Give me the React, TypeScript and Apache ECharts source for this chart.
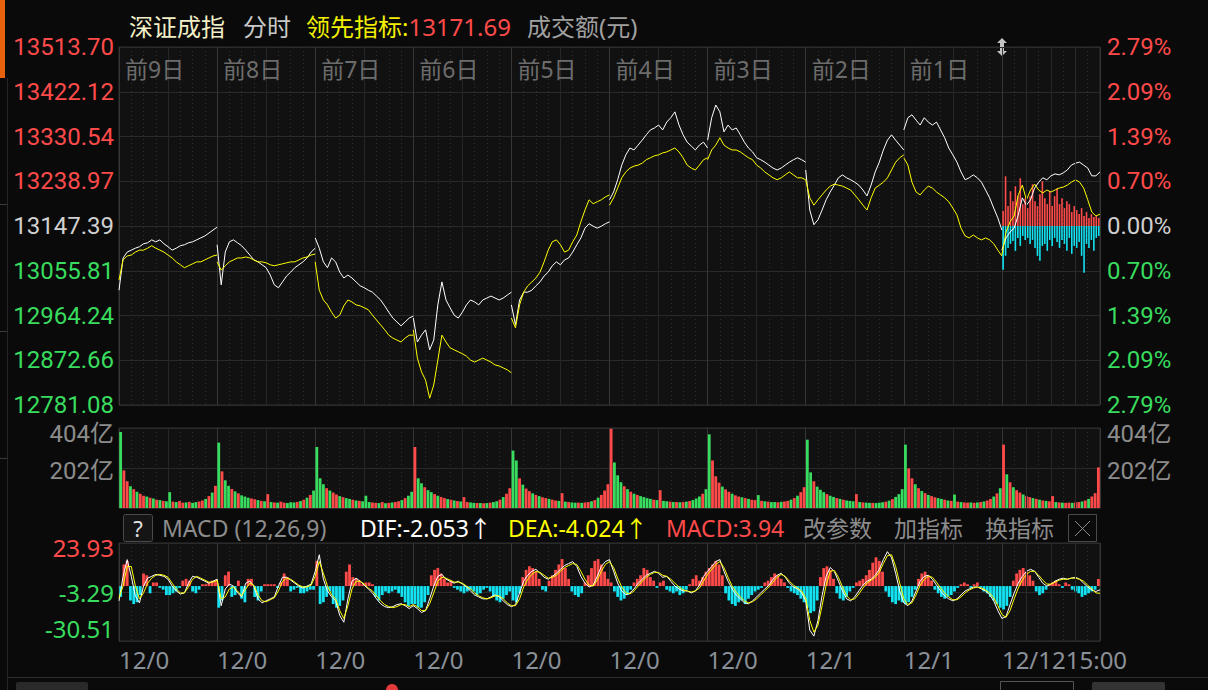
import React, { useEffect, useRef } from 'react';
import * as echarts from 'echarts';

const FONT = '"Noto Sans", "Noto Sans CJK SC", sans-serif';
const AXIS_FONT = 'Roboto, "Noto Sans CJK SC", sans-serif';
const RED = '#ff4a4a';
const GREEN = '#38dc5e';
const CYAN = '#12e2f2';
const YELLOW = '#ffff00';
const GREY = '#8c8c8c';

const PRICE_MIN = 12781.08;
const PRICE_MAX = 13513.70;
const PRICE_TICKS = ['12781.08', '12872.66', '12964.24', '13055.81', '13147.39', '13238.97', '13330.54', '13422.12', '13513.70'];
const PCT_TICKS = ['2.79%', '2.09%', '1.39%', '0.70%', '0.00%', '0.70%', '1.39%', '2.09%', '2.79%'];
const VOL_TICKS = ['', '202亿', '404亿'];
const MACD_MIN = -30.51;
const MACD_MAX = 23.93;
const MACD_TICKS = ['-30.51', '-3.29', '23.93'];
const TOP_DAY_LABELS = ['前9日', '前8日', '前7日', '前6日', '前5日', '前4日', '前3日', '前2日', '前1日'];
const DATE_LABELS = ['12/0', '12/0', '12/0', '12/0', '12/0', '12/0', '12/0', '12/1', '12/1', '12/1215:00'];

// index (white) – one value every 10 minutes, 25 per day
const INDEX_DAYS: number[][] = [
  [13016, 13082, 13094, 13098, 13102, 13105, 13111, 13113, 13119, 13115, 13119, 13111, 13105, 13098, 13102, 13107, 13109, 13113, 13115, 13119, 13123, 13127, 13133, 13139, 13145],
  [13109, 13027, 13094, 13115, 13119, 13113, 13107, 13098, 13088, 13078, 13074, 13068, 13062, 13047, 13027, 13021, 13033, 13045, 13053, 13062, 13068, 13074, 13082, 13094, 13102],
  [13123, 13102, 13074, 13062, 13082, 13074, 13053, 13041, 13047, 13041, 13033, 13025, 13021, 13016, 13012, 13004, 12996, 12984, 12971, 12959, 12951, 12943, 12951, 12959, 12963],
  [12959, 12910, 12924, 12935, 12894, 12914, 12986, 13033, 12996, 12980, 12965, 12959, 12971, 12986, 12996, 12992, 12986, 12996, 13000, 13004, 13000, 12996, 13000, 13006, 13012],
  [12986, 12945, 12996, 13012, 13012, 13016, 13025, 13033, 13045, 13053, 13066, 13074, 13068, 13078, 13082, 13094, 13109, 13123, 13143, 13152, 13147, 13143, 13147, 13152, 13156],
  [13201, 13217, 13242, 13272, 13293, 13307, 13303, 13313, 13323, 13334, 13344, 13348, 13354, 13344, 13360, 13369, 13381, 13354, 13334, 13319, 13311, 13303, 13313, 13319, 13307],
  [13323, 13369, 13395, 13381, 13340, 13354, 13344, 13348, 13334, 13319, 13307, 13299, 13287, 13283, 13278, 13272, 13266, 13262, 13266, 13272, 13278, 13283, 13287, 13283, 13278],
  [13262, 13180, 13150, 13160, 13180, 13201, 13217, 13231, 13246, 13252, 13246, 13242, 13237, 13231, 13221, 13209, 13231, 13258, 13278, 13303, 13323, 13334, 13323, 13313, 13303],
  [13344, 13369, 13375, 13364, 13354, 13369, 13360, 13354, 13360, 13344, 13328, 13307, 13293, 13278, 13258, 13242, 13246, 13252, 13246, 13237, 13221, 13205, 13184, 13164, 13139],
  [13098, 13123, 13135, 13143, 13170, 13205, 13190, 13201, 13225, 13237, 13246, 13242, 13250, 13254, 13252, 13256, 13262, 13272, 13276, 13278, 13272, 13266, 13250, 13250, 13258],
];

// leading indicator (yellow) – one value every 10 minutes, 25 per day
const LEAD_DAYS: number[][] = [
  [13037, 13078, 13086, 13088, 13094, 13098, 13098, 13102, 13107, 13102, 13098, 13094, 13088, 13082, 13074, 13068, 13062, 13066, 13070, 13074, 13074, 13078, 13082, 13086, 13088],
  [13074, 13057, 13066, 13074, 13078, 13082, 13082, 13084, 13082, 13078, 13074, 13074, 13072, 13068, 13066, 13068, 13070, 13072, 13074, 13074, 13078, 13082, 13084, 13088, 13090],
  [13074, 13016, 12996, 12986, 12971, 12959, 12965, 12984, 12996, 12992, 12986, 12984, 12980, 12976, 12965, 12955, 12945, 12935, 12924, 12918, 12914, 12910, 12918, 12924, 12924],
  [12935, 12877, 12849, 12832, 12795, 12822, 12873, 12924, 12910, 12898, 12894, 12890, 12886, 12881, 12873, 12869, 12873, 12877, 12873, 12869, 12863, 12861, 12857, 12853, 12847],
  [12959, 12939, 12986, 13012, 13025, 13033, 13041, 13053, 13074, 13098, 13115, 13119, 13109, 13094, 13098, 13115, 13129, 13156, 13180, 13201, 13193, 13197, 13201, 13207, 13211],
  [13190, 13205, 13225, 13246, 13258, 13266, 13270, 13272, 13276, 13283, 13287, 13291, 13293, 13297, 13299, 13303, 13307, 13299, 13287, 13272, 13266, 13262, 13272, 13283, 13287],
  [13283, 13303, 13313, 13328, 13313, 13307, 13303, 13303, 13299, 13293, 13287, 13283, 13272, 13266, 13258, 13252, 13246, 13242, 13246, 13252, 13258, 13252, 13246, 13246, 13242],
  [13242, 13205, 13190, 13201, 13211, 13221, 13229, 13233, 13231, 13229, 13225, 13221, 13211, 13201, 13190, 13180, 13205, 13225, 13231, 13237, 13246, 13262, 13278, 13287, 13293],
  [13287, 13272, 13237, 13217, 13211, 13221, 13229, 13225, 13217, 13211, 13205, 13197, 13184, 13170, 13143, 13127, 13123, 13129, 13123, 13119, 13123, 13119, 13111, 13098, 13086],
  [13088, 13135, 13156, 13168, 13211, 13231, 13201, 13221, 13233, 13221, 13215, 13221, 13217, 13221, 13225, 13227, 13231, 13237, 13242, 13237, 13225, 13201, 13176, 13168, 13171.69],
];

// last-day buy / sell strength bars, one every 6 minutes
const BUY_STRENGTH = [15, 50, 20, 35, 25, 40, 30, 48, 22, 28, 18, 30, 42, 25, 20, 32, 45, 28, 22, 35, 20, 30, 38, 22, 28, 18, 25, 22, 14, 20, 16, 12, 18, 10, 14, 8, 12, 9, 10, 8];
const SELL_STRENGTH = [44, 30, 22, 18, 15, 25, 12, 20, 10, 14, 12, 18, 14, 22, 30, 35, 20, 18, 25, 14, 20, 12, 16, 22, 14, 18, 25, 12, 28, 20, 22, 16, 30, 47, 18, 22, 14, 25, 12, 10];

// turnover (亿) – one bar every 8 minutes, 30 per day
const VOLUME_DAYS: number[][] = [
  [384, 190, 135, 110, 95, 82, 72, 62, 58, 52, 48, 42, 40, 36, 34, 80, 32, 30, 35, 27, 28, 31, 26, 30, 33, 38, 46, 60, 78, 112],
  [330, 185, 140, 112, 96, 84, 74, 64, 58, 52, 48, 44, 40, 36, 34, 70, 30, 28, 27, 32, 27, 25, 29, 28, 31, 35, 42, 52, 66, 88],
  [308, 150, 120, 100, 88, 78, 68, 60, 55, 50, 46, 42, 38, 36, 34, 62, 30, 28, 26, 25, 30, 24, 26, 28, 30, 34, 40, 50, 62, 82],
  [308, 150, 125, 105, 90, 80, 70, 62, 56, 50, 45, 42, 38, 35, 33, 55, 30, 28, 26, 25, 25, 24, 25, 27, 30, 34, 42, 55, 72, 100],
  [290, 240, 150, 118, 98, 85, 74, 66, 60, 54, 50, 46, 42, 38, 36, 75, 32, 30, 28, 27, 27, 26, 28, 30, 34, 40, 52, 66, 88, 120],
  [400, 230, 165, 130, 110, 95, 82, 72, 66, 60, 55, 50, 46, 42, 40, 90, 36, 34, 32, 30, 30, 29, 30, 32, 35, 40, 48, 58, 72, 95],
  [372, 240, 160, 128, 108, 94, 82, 72, 64, 58, 54, 50, 46, 42, 40, 65, 36, 34, 32, 30, 30, 29, 31, 33, 36, 42, 50, 62, 80, 105],
  [345, 180, 135, 108, 92, 80, 70, 62, 56, 50, 46, 42, 38, 36, 34, 70, 30, 28, 27, 26, 26, 25, 27, 29, 32, 37, 45, 56, 70, 95],
  [320, 200, 150, 120, 100, 86, 75, 66, 60, 54, 50, 46, 42, 38, 36, 68, 32, 30, 28, 27, 28, 26, 28, 30, 33, 38, 46, 58, 74, 100],
  [320, 170, 130, 105, 90, 78, 68, 60, 55, 50, 46, 42, 38, 36, 34, 60, 30, 28, 27, 26, 27, 26, 28, 30, 33, 38, 46, 58, 75, 205],
];
const VOLUME_UPDOWN: string[] = [
  'grrgrgrrgr' + 'grgrggrgrr' + 'grggrrgrgr',
  'grggrgrggg' + 'rrgrgrgrgr' + 'rgggrgrgrg',
  'gggrgrrgrg' + 'grgrgggrrg' + 'rgrgrrgrgg',
  'rggrggrgrr' + 'grgrgrrggr' + 'grgrggrgrr',
  'ggrgrrgrgr' + 'rgrrgrgrgg' + 'rgrrgrgrrr',
  'rgggrgrgrg' + 'gggrgrggrg' + 'rgrgrgggrg',
  'grrrgrrgrr' + 'grgrrgrgrg' + 'grgrrgrgrr',
  'ggrgggrggr' + 'grgggrgrgg' + 'rgggrgrggg',
  'grrgrgrgrr' + 'ggrgrgrgrr' + 'grgrgrrgrg',
  'rgrgrrgrrg' + 'rgrgrrgrgr' + 'rgrrgrgrrr',
];

// MACD histogram – one bar every 8 minutes, 30 per day
const MACD_HIST_DAYS: number[][] = [
  [-6, 12, 14, -8, -10, -9, -5, 7, 6, -4, 2, 2, -1, -2, -5, -5, -4, -3, -1, 3, 4, 3, -3, -4, -2, 1, 1, 2, 3, 3],
  [-12, -8, 6, 8, -6, -5, 3, -7, -9, 4, 4, -6, -8, -3, 1, 1, 1, 1, -1, 2, 7, 5, -3, -2, -1, -4, -4, -3, -2, -2],
  [14, -10, -9, -6, -3, -10, -12, -11, -8, 8, 12, 5, 4, 3, 1, 2, 2, 1, -6, -8, -5, -3, -4, -3, -2, -4, -6, -9, -11, -10],
  [-10, -12, -12, -9, -5, 6, 9, 10, 7, 4, 2, 3, -1, -2, -3, -4, -3, -2, -3, -5, -4, -2, -1, -3, -6, -8, -9, -7, -5, -3],
  [-8, -9, -4, 5, 9, 11, 10, 8, 4, -2, -3, 3, 6, 9, 12, 15, 10, 4, -3, -5, -6, -4, 2, 6, 10, 14, 15, 12, 8, 4],
  [2, -3, -6, -8, -7, -5, -2, 2, 4, 6, 10, 9, 5, 3, -1, 2, 3, -2, -3, -4, -3, -5, -4, -2, 1, 4, 6, 3, 5, 8],
  [10, 12, 14, 12, 6, -4, -8, -10, -11, -9, -8, -10, -7, -5, -3, -2, -1, 2, 3, 5, 7, 6, 4, 2, -1, -3, -4, -5, -7, -9],
  [-12, -15, -14, -8, 5, 10, 11, 9, 4, -4, -7, -8, -6, -3, -1, 2, 3, 4, 6, 9, 13, 16, 14, 8, -3, -6, -9, -10, -8, -9],
  [-10, -9, -6, -2, 4, 7, 8, 6, 3, -2, -4, -6, -7, -6, -5, -3, -1, 1, 2, 1, -1, 1, 2, -1, -3, -4, -6, -8, -10, -12],
  [-13, -11, -6, 3, 7, 9, 10, 8, 6, 3, -3, -5, -4, -2, 1, 2, 3, 1, -1, 2, 1, -2, -3, -4, -6, -5, -4, -3, -2, 3.94],
];

// DIF / DEA – one value every 10 minutes (24 per day, 25 on the last day)
const DIF_DAYS: number[][] = [
  [-8.2, 5.4, 14.7, 5.4, -5.4, -9.3, 0, 4.4, 5.4, 6.5, 6.0, 5.4, 3.8, 0, -2.7, -4.4, -3.8, 1.6, 5.4, 4.9, 3.8, 2.7, 1.6, 2.7],
  [3.8, -10.9, -1.6, 1.1, 0, -3.8, -6.0, 1.6, 2.7, 0, -7.1, -9.3, -8.2, -7.1, -6.0, 0, 4.9, 4.9, 3.3, 1.6, 0, -1.1, 0, 1.1],
  [8.2, 17.4, 3.8, -2.7, -6.0, -8.2, -16.3, -20.1, -7.1, 2.7, 4.4, 2.7, 0.5, -1.6, -3.8, -7.1, -9.8, -11.4, -12.0, -11.4, -10.3, -9.8, -10.9, -12.5],
  [-10.9, -12.5, -14.7, -13.6, -7.1, 0, 5.4, 6.5, 3.8, 2.7, 1.6, 2.7, 1.1, -0.5, -2.7, -4.9, -6.0, -7.1, -7.1, -6.0, -4.9, -6.0, -8.2, -10.3],
  [-11.4, -10.3, -3.8, 2.7, 6.0, 8.2, 9.3, 7.1, 4.9, 3.8, 5.4, 7.1, 9.3, 11.4, 12.5, 13.6, 10.9, 5.4, 1.6, -0.5, 0.5, 5.4, 10.9, 13.6],
  [14.7, 8.2, 1.6, -2.7, -4.9, -3.8, -1.6, 1.6, 3.8, 6.0, 7.1, 8.2, 7.1, 4.9, 5.4, 2.7, 0, -1.6, -2.7, -2.7, -3.8, -2.7, 0.5, 5.4],
  [8.2, 10.9, 13.6, 14.7, 8.2, 2.7, -1.6, -4.9, -7.1, -9.3, -9.8, -8.2, -6.0, -3.8, -1.6, 0.5, 3.8, 6.0, 7.1, 4.9, 1.6, -0.5, -1.6, -3.8],
  [-8.2, -24.5, -27.8, -19.1, -5.4, 5.4, 10.3, 8.2, 2.7, -2.7, -7.1, -8.2, -6.0, -2.7, 0.5, 2.7, 3.8, 6.0, 9.3, 14.7, 19.1, 15.8, 7.1, -2.7],
  [-9.3, -10.9, -8.2, -2.7, 2.7, 5.4, 6.0, 3.8, 0.5, -2.7, -5.4, -7.1, -8.2, -7.1, -4.9, -2.7, -1.6, -0.5, -0.5, -1.6, -2.7, -4.9, -8.2, -13.6],
  [-18.0, -16.9, -10.3, -3.8, 1.6, 5.4, 8.2, 9.3, 8.2, 4.9, 1.6, 0, 1.1, 2.7, 3.8, 4.4, 3.8, 4.4, 4.9, 3.8, 1.6, -0.5, -2.2, -3.0, -2.053],
];
const DEA_DAYS: number[][] = [
  [-6.5, 0, 10.9, 10.9, 0, -7.1, -3.8, 1.6, 4.4, 6.0, 6.5, 6.0, 4.9, 1.6, -1.6, -3.8, -3.8, -0.5, 3.8, 5.4, 4.4, 3.3, 2.2, 2.2],
  [3.3, -7.1, -6.0, -1.6, -0.5, -2.7, -5.4, -1.6, 1.6, 0.5, -4.9, -8.2, -8.7, -7.6, -6.5, -2.7, 2.7, 4.4, 3.8, 2.2, 0.5, -0.5, -0.5, 0.5],
  [5.4, 13.6, 7.1, 0, -4.9, -7.1, -13.6, -18.0, -10.9, -1.6, 2.7, 2.7, 1.1, -1.1, -2.7, -5.4, -8.2, -10.3, -11.4, -12.0, -11.4, -10.3, -10.3, -11.4],
  [-10.3, -11.4, -13.6, -13.6, -9.8, -3.8, 2.7, 4.9, 4.4, 3.3, 2.2, 2.2, 1.6, 0, -1.6, -3.8, -5.4, -6.5, -7.1, -6.5, -5.4, -5.4, -7.1, -9.3],
  [-10.9, -10.9, -7.1, -0.5, 3.8, 6.5, 8.2, 7.6, 6.0, 4.4, 4.9, 6.0, 8.2, 10.3, 11.4, 12.5, 12.0, 8.2, 3.8, 0.5, 0, 3.3, 8.2, 12.0],
  [13.6, 10.3, 4.4, -0.5, -3.8, -4.4, -2.7, 0, 2.7, 4.9, 6.5, 7.6, 7.6, 6.0, 5.4, 3.8, 1.6, -0.5, -2.2, -2.7, -3.3, -2.7, -1.1, 2.7],
  [6.5, 9.3, 12.0, 13.6, 10.3, 4.9, 0, -3.3, -6.0, -8.2, -9.3, -8.7, -7.1, -4.9, -2.7, -0.5, 2.2, 4.9, 6.5, 5.4, 2.7, 0.5, -1.1, -2.7],
  [-6.5, -19.1, -25.6, -21.8, -10.9, 0.5, 8.2, 8.7, 4.9, -0.5, -5.4, -7.6, -7.1, -4.4, -1.1, 1.6, 3.3, 4.9, 7.6, 12.5, 16.9, 17.4, 10.9, 1.6],
  [-7.1, -10.3, -9.3, -4.9, 0.5, 3.8, 5.4, 4.9, 2.2, -1.1, -3.8, -6.0, -7.6, -7.6, -6.0, -3.8, -2.2, -1.1, -0.5, -1.1, -2.2, -3.8, -6.5, -10.9],
  [-15.8, -17.4, -13.6, -7.1, -1.1, 3.3, 6.5, 8.2, 8.2, 6.0, 3.3, 1.1, 1.1, 2.2, 3.3, 3.8, 3.8, 4.4, 4.4, 3.8, 2.7, 0.5, -1.6, -3.8, -4.024],
];

const DAY = 240;

function xAxisPair(gridIndex: number, labelTop: boolean, labelBottom: boolean) {
  const base = {
    gridIndex,
    type: 'value',
    min: 0,
    max: DAY * 10,
    axisLine: { show: false },
    axisTick: { show: false },
  };
  return [
    {
      ...base,
      position: labelBottom ? 'bottom' : 'top',
      interval: 120,
      splitLine: { show: true, lineStyle: { color: '#262626', width: 1 } },
      minorTick: { show: false, splitNumber: 4 },
      minorSplitLine: { show: true, lineStyle: { color: '#2e2e2e', width: 1, type: [1, 3] } },
      axisLabel: { show: false },
    },
    {
      ...base,
      position: labelBottom ? 'top' : 'bottom',
      interval: DAY,
      splitLine: { show: true, lineStyle: { color: '#363636', width: 1 } },
      axisLabel: labelTop
        ? {
            show: true,
            inside: true,
            margin: 10,
            align: 'left',
            verticalAlign: 'top',
            padding: [0, 0, 0, 6],
            color: '#6c6c6c',
            fontSize: 23,
            fontFamily: FONT,
            showMaxLabel: false,
            formatter: (v: number) => {
              const i = Math.round(v / DAY);
              return i < TOP_DAY_LABELS.length ? TOP_DAY_LABELS[i] : '';
            },
          }
        : { show: false },
    },
  ];
}

function buildOption() {
  const series: any[] = [];
  const hourLines = {
    silent: true,
    symbol: ['none', 'none'],
    label: { show: false },
    lineStyle: { color: '#2a2a2a', type: 'solid', width: 1 },
    data: [{ xAxis: DAY * 9 + 60 }, { xAxis: DAY * 9 + 180 }],
  };

  // last-day strength bars
  series.push({
    type: 'bar', xAxisIndex: 0, yAxisIndex: 3, barWidth: 1.6, barGap: '-100%', z: 1,
    itemStyle: { color: RED },
    data: BUY_STRENGTH.map((v, i) => [DAY * 9 + i * 6 + 3, v]),
    markLine: hourLines,
  });
  series.push({
    type: 'bar', xAxisIndex: 0, yAxisIndex: 3, barWidth: 1.6, barGap: '-100%', z: 1,
    itemStyle: { color: CYAN },
    data: SELL_STRENGTH.map((v, i) => [DAY * 9 + i * 6 + 3, -v]),
  });

  for (let d = 0; d < 10; d++) {
    series.push({
      type: 'line', xAxisIndex: 0, yAxisIndex: 2, symbol: 'none', z: 3,
      lineStyle: { color: '#ffffff', width: 1 },
      data: INDEX_DAYS[d].map((p, i) => [d * DAY + i * 10, p]),
    });
    series.push({
      type: 'line', xAxisIndex: 0, yAxisIndex: 2, symbol: 'none', z: 4,
      lineStyle: { color: YELLOW, width: 1 },
      data: LEAD_DAYS[d].map((p, i) => [d * DAY + i * 10, p]),
    });
  }

  // volume
  const volData: any[] = [];
  VOLUME_DAYS.forEach((day, d) =>
    day.forEach((v, i) =>
      volData.push({
        value: [d * DAY + i * 8 + 4, v],
        itemStyle: { color: VOLUME_UPDOWN[d][i] === 'r' ? RED : GREEN },
      })
    )
  );
  series.push({
    type: 'bar', xAxisIndex: 2, yAxisIndex: 4, barWidth: 2.8, data: volData, markLine: hourLines,
  });

  // MACD
  const histData: any[] = [];
  MACD_HIST_DAYS.forEach((day, d) =>
    day.forEach((v, i) =>
      histData.push({ value: [d * DAY + i * 8 + 4, v], itemStyle: { color: v >= 0 ? RED : CYAN } })
    )
  );
  series.push({
    type: 'bar', xAxisIndex: 5, yAxisIndex: 7, barWidth: 2.8, data: histData, markLine: hourLines, z: 1,
  });
  const toLine = (days: number[][]) => {
    const out: number[][] = [];
    days.forEach((day, d) => day.forEach((v, i) => out.push([d * DAY + i * 10, v])));
    return out;
  };
  series.push({
    type: 'line', xAxisIndex: 5, yAxisIndex: 7, symbol: 'none', z: 3,
    lineStyle: { color: '#ffffff', width: 1 }, data: toLine(DIF_DAYS),
  });
  series.push({
    type: 'line', xAxisIndex: 5, yAxisIndex: 7, symbol: 'none', z: 4,
    lineStyle: { color: YELLOW, width: 1 }, data: toLine(DEA_DAYS),
  });

  const gridBase = { left: 119, width: 981, show: true, backgroundColor: '#111111', borderColor: '#303030', borderWidth: 1 };
  const priceColor = (val: any) => {
    const v = Number(val);
    return v > 0.01 ? RED : v < -0.01 ? GREEN : '#d0d0d0';
  };
  const axisFont = { fontSize: 24, fontFamily: AXIS_FONT, lineHeight: 20 };
  const macdFont = { fontSize: 24, fontFamily: FONT, lineHeight: 20 };

  const xAxes: any[] = [
    ...xAxisPair(0, true, true),
    ...xAxisPair(1, false, true),
    ...xAxisPair(2, false, false),
  ];
  // grid 2: bottom axis (index 5) carries the date labels
  xAxes[5] = {
    ...xAxes[5],
    position: 'bottom',
    axisLabel: {
      show: true, margin: 6, align: 'left', color: '#8a9098', fontSize: 24, fontFamily: FONT, showMaxLabel: false,
      formatter: (v: number) => {
        const i = Math.round(v / DAY);
        return i < DATE_LABELS.length ? DATE_LABELS[i] : '';
      },
    },
  };
  xAxes[4] = { ...xAxes[4], position: 'top' };

  const volLabel = (margin: number) => ({
    margin, color: GREY, ...axisFont,
    formatter: (v: number) => {
      const i = Math.round(v / 202);
      return i === 2 ? '{t|' + VOL_TICKS[i] + '}' : i === 1 ? '{m|' + VOL_TICKS[i] + '}' : VOL_TICKS[i];
    },
    rich: {
      t: { color: GREY, ...axisFont, padding: [11, 0, 0, 0] },
      m: { color: GREY, ...axisFont, padding: [5, 0, 0, 0] },
    },
  });

  const yAxes: any[] = [
    {
      gridIndex: 0, type: 'value', position: 'left', min: -4, max: 4, interval: 1,
      axisLine: { show: false }, axisTick: { show: false },
      splitLine: { show: true, lineStyle: { color: '#2a2a2a' } },
      axisLabel: { margin: 5, color: priceColor, ...axisFont, formatter: (v: number) => PRICE_TICKS[Math.round(v) + 4] },
    },
    {
      gridIndex: 0, type: 'value', position: 'right', min: -4, max: 4, interval: 1,
      axisLine: { show: false }, axisTick: { show: false }, splitLine: { show: false },
      axisLabel: { margin: 7, color: priceColor, ...axisFont, formatter: (v: number) => PCT_TICKS[Math.round(v) + 4] },
    },
    { gridIndex: 0, type: 'value', min: PRICE_MIN, max: PRICE_MAX, show: false, splitLine: { show: false } },
    { gridIndex: 0, type: 'value', min: -180, max: 180, show: false, splitLine: { show: false } },
    {
      gridIndex: 1, type: 'value', position: 'left', min: 0, max: 404, interval: 202,
      axisLine: { show: false }, axisTick: { show: false },
      splitLine: { show: true, lineStyle: { color: '#2a2a2a' } },
      axisLabel: volLabel(5),
    },
    {
      gridIndex: 1, type: 'value', position: 'right', min: 0, max: 404, interval: 202,
      axisLine: { show: false }, axisTick: { show: false }, splitLine: { show: false },
      axisLabel: volLabel(7),
    },
    {
      gridIndex: 2, type: 'value', position: 'left', min: -1, max: 1, interval: 1,
      axisLine: { show: false }, axisTick: { show: false },
      splitLine: { show: true, lineStyle: { color: '#2a2a2a' } },
      axisLabel: {
        margin: 5, ...macdFont,
        formatter: (v: number) => {
          const i = Math.round(v) + 1;
          return i === 2 ? '{t|' + MACD_TICKS[i] + '}' : i === 0 ? '{b|' + MACD_TICKS[i] + '}' : '{m|' + MACD_TICKS[i] + '}';
        },
        rich: {
          t: { color: RED, ...macdFont, padding: [8, 0, 0, 0] },
          m: { color: GREEN, ...macdFont },
          b: { color: GREEN, ...macdFont, padding: [0, 0, 25, 0] },
        },
      },
    },
    { gridIndex: 2, type: 'value', min: MACD_MIN, max: MACD_MAX, show: false, splitLine: { show: false } },
  ];

  const txt = (x: number, y: number, text: string, fill: string, size = 24, extra: any = {}) => ({
    type: 'text', x, y, silent: true,
    style: { text, fill, fontSize: size, fontFamily: FONT, verticalAlign: 'middle', ...extra },
  });

  const graphic: any[] = [
    { type: 'rect', silent: true, shape: { x: 0, y: 0, width: 5, height: 78 }, style: { fill: '#e8620e' } },
    { type: 'line', silent: true, shape: { x1: 7.5, y1: 78, x2: 7.5, y2: 690 }, style: { stroke: '#262626', lineWidth: 1 } },
    { type: 'line', silent: true, shape: { x1: 0, y1: 204.5, x2: 7, y2: 204.5 }, style: { stroke: '#3a3a3a', lineWidth: 1 } },
    { type: 'line', silent: true, shape: { x1: 0, y1: 331.5, x2: 7, y2: 331.5 }, style: { stroke: '#3a3a3a', lineWidth: 1 } },
    { type: 'line', silent: true, shape: { x1: 0, y1: 458.5, x2: 7, y2: 458.5 }, style: { stroke: '#3a3a3a', lineWidth: 1 } },
    txt(129, 26, '深证成指', '#f2efc8'),
    txt(243, 26, '分时', '#c8c8c8'),
    {
      type: 'text', x: 306, y: 26, silent: true,
      style: {
        text: '{a|领先指标:}{b|13171.69}', verticalAlign: 'middle', fontSize: 24, fontFamily: FONT,
        rich: { a: { fill: '#f2f000', fontSize: 24, fontFamily: FONT }, b: { fill: RED, fontSize: 24, fontFamily: FONT } },
      },
    },
    txt(527, 26, '成交额(元)', '#a0a0a0'),
    // drag handle
    {
      type: 'polygon', silent: true,
      shape: { points: [[1002, 38], [997, 43], [1000, 43], [1000, 51], [997, 51], [1002, 56], [1007, 51], [1004, 51], [1004, 43], [1007, 43]] },
      style: { fill: '#c4c4c4' },
    },
    // MACD header band
    { type: 'rect', silent: true, shape: { x: 123.5, y: 514.5, width: 29, height: 27, r: 2 }, style: { fill: '#151515', stroke: '#4a4a4a', lineWidth: 1 } },
    txt(138, 528, '?', '#e0e0e0', 22, { align: 'center' }),
    txt(162, 528, 'MACD (12,26,9)', GREY, 23),
    txt(360, 528, 'DIF:-2.053↑', '#ffffff', 23),
    txt(508, 528, 'DEA:-4.024↑', YELLOW, 23),
    txt(666, 528, 'MACD:3.94', RED, 23),
    txt(803, 528, '改参数', GREY, 23),
    txt(894, 528, '加指标', GREY, 23),
    txt(985, 528, '换指标', GREY, 23),
    { type: 'rect', silent: true, shape: { x: 1068.5, y: 514.5, width: 28, height: 27 }, style: { fill: 'none', stroke: '#4a4a4a', lineWidth: 1 } },
    { type: 'line', silent: true, shape: { x1: 1075, y1: 521, x2: 1090, y2: 536 }, style: { stroke: '#8a8a8a', lineWidth: 1 } },
    { type: 'line', silent: true, shape: { x1: 1090, y1: 521, x2: 1075, y2: 536 }, style: { stroke: '#8a8a8a', lineWidth: 1 } },
    // bottom toolbar edge
    { type: 'line', silent: true, shape: { x1: 8, y1: 677.5, x2: 1208, y2: 677.5 }, style: { stroke: '#2e2e2e', lineWidth: 1 } },
    { type: 'rect', silent: true, shape: { x: 16, y: 682, width: 72, height: 12, r: 2 }, style: { fill: '#2a2a2a' } },
    { type: 'circle', silent: true, shape: { cx: 392, cy: 690, r: 6 }, style: { fill: '#e53a3a' } },
    { type: 'rect', silent: true, shape: { x: 1000.5, y: 681.5, width: 73, height: 14 }, style: { fill: 'none', stroke: '#555555', lineWidth: 1 } },
    { type: 'rect', silent: true, shape: { x: 1092, y: 682, width: 73, height: 12, r: 2 }, style: { fill: '#333333' } },
  ];

  return {
    animation: false,
    backgroundColor: '#0a0a0a',
    textStyle: { fontFamily: FONT },
    grid: [
      { ...gridBase, top: 47, height: 358 },
      { ...gridBase, top: 428, height: 80 },
      { ...gridBase, top: 543, height: 98 },
    ],
    xAxis: xAxes,
    yAxis: yAxes,
    series,
    graphic,
  };
}

export default function App() {
  const ref = useRef<HTMLDivElement>(null);
  useEffect(() => {
    document.body.style.margin = '0';
    document.body.style.background = '#0a0a0a';
    if (!ref.current) return;
    const chart = echarts.init(ref.current, null, { renderer: 'svg' });
    chart.setOption(buildOption() as any);
    return () => chart.dispose();
  }, []);
  return <div ref={ref} style={{ position: 'fixed', left: 0, top: 0, width: 1208, height: 690, background: '#0a0a0a' }} />;
}
